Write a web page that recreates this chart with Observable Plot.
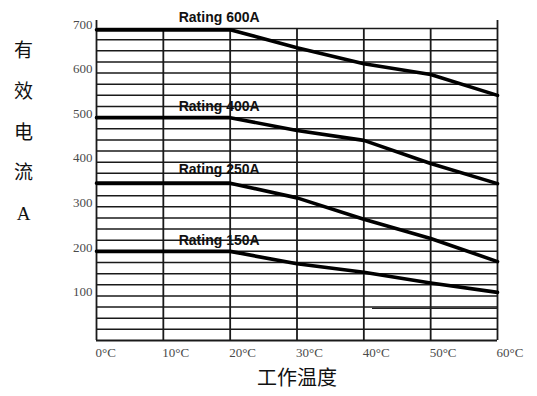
<!DOCTYPE html>
<html><head><meta charset="utf-8">
<script src="https://cdn.jsdelivr.net/npm/d3@7"></script>
<script src="https://cdn.jsdelivr.net/npm/@observablehq/plot@0.6"></script>
<style>
body{margin:0;background:#fff;}
g[aria-label="xtick"] text{letter-spacing:2px}
g[aria-label="ytick"] text{letter-spacing:2.2px}
g[aria-label="rating"] text{letter-spacing:1.6px}
</style></head><body><div id="chart"></div>
<script>
const temps = [0, 20, 30, 40, 50, 60];
const rating600 = [697, 697, 657, 621, 597, 550];
const rating400 = [500, 500, 471, 449, 397, 352];
const rating250 = [353, 353, 320, 272, 229, 177];
const rating150 = [200, 200, 172, 153, 129, 108];
const seriesNames = ["Rating 600A", "Rating 400A", "Rating 250A", "Rating 150A"];
const labelX = [12.3, 12.3, 12.3, 12.3];
const labelY = [725, 525, 384, 224];
const faintT = [41.3, 60];
const faintV = [72, 72];
const xTicks = [0, 10, 20, 30, 40, 50, 60];
const xTickLabels = ["0°C", "10°C", "20°C", "30°C", "40°C", "50°C", "60°C"];
const yTicks = [100, 200, 300, 400, 500, 600, 700];
const yTickLabels = ["100", "200", "300", "400", "500", "600", "700"];
const gridY = d3.range(25, 701, 25);
const xTitle = "工作温度";
const yTitle = "有\n效\n电\n流\nA";

const seriesValues = [rating600, rating400, rating250, rating150];
const lineData = seriesNames.flatMap((s, k) => temps.map((t, i) => ({s, t, v: seriesValues[k][i]})));
const labelData = seriesNames.map((s, i) => ({s, x: labelX[i], y: labelY[i]}));
const faintData = faintT.map((t, i) => ({t, v: faintV[i]}));
const xTickData = xTicks.map((t, i) => ({t, label: xTickLabels[i]}));
const yTickData = yTicks.map((v, i) => ({v, label: yTickLabels[i]}));

const chart = Plot.plot({
  width: 537, height: 396,
  marginLeft: 96, marginRight: 40, marginTop: 28, marginBottom: 56,
  x: {domain: [0, 60], axis: null},
  y: {domain: [0, 700], axis: null},
  style: {background: "#fff"},
  marks: [
    Plot.ruleY(gridY, {stroke: "#1a1a1a", strokeWidth: 1.5}),
    Plot.ruleY([0], {stroke: "#1a1a1a", strokeWidth: 2}),
    Plot.ruleX(xTicks, {y1: 0, y2: d => (d === 0 || d === 60) ? 718 : 700, stroke: "#1a1a1a", strokeWidth: 1.8}),
    Plot.line(faintData, {x: "t", y: "v", stroke: "#222", strokeWidth: 1.2}),
    Plot.line(lineData, {x: "t", y: "v", z: "s", stroke: "#000", strokeWidth: 3.6}),
    Plot.text(labelData, {x: "x", y: "y", text: "s", textAnchor: "start", fontFamily: "Liberation Sans, Arial, sans-serif", fontSize: 14, fontWeight: "bold", fill: "#111", ariaLabel: "rating"}),
    Plot.text(xTickData, {x: "t", y: 0, text: "label", textAnchor: "start", dx: -1, dy: 12, fontFamily: "Liberation Serif, Times New Roman, serif", fontSize: 13, fill: "#4a4a4a", ariaLabel: "xtick"}),
    Plot.text(yTickData, {x: 0, y: "v", text: "label", textAnchor: "end", dx: -4, dy: -4, fontFamily: "Liberation Serif, Times New Roman, serif", fontSize: 13, fill: "#4a4a4a", ariaLabel: "ytick"}),
    Plot.text([xTitle], {frameAnchor: "bottom", text: d => d, dy: 44, fontFamily: "Noto Sans CJK SC, sans-serif", fontSize: 20, fill: "#111"}),
    Plot.text([yTitle], {frameAnchor: "left", text: d => d, dx: -73, dy: -59, textAnchor: "middle", lineHeight: 2.15, fontFamily: "Liberation Serif, Noto Sans CJK SC, serif", fontSize: 19, fill: "#111"})
  ]
});
document.getElementById("chart").appendChild(chart);
</script></body></html>
